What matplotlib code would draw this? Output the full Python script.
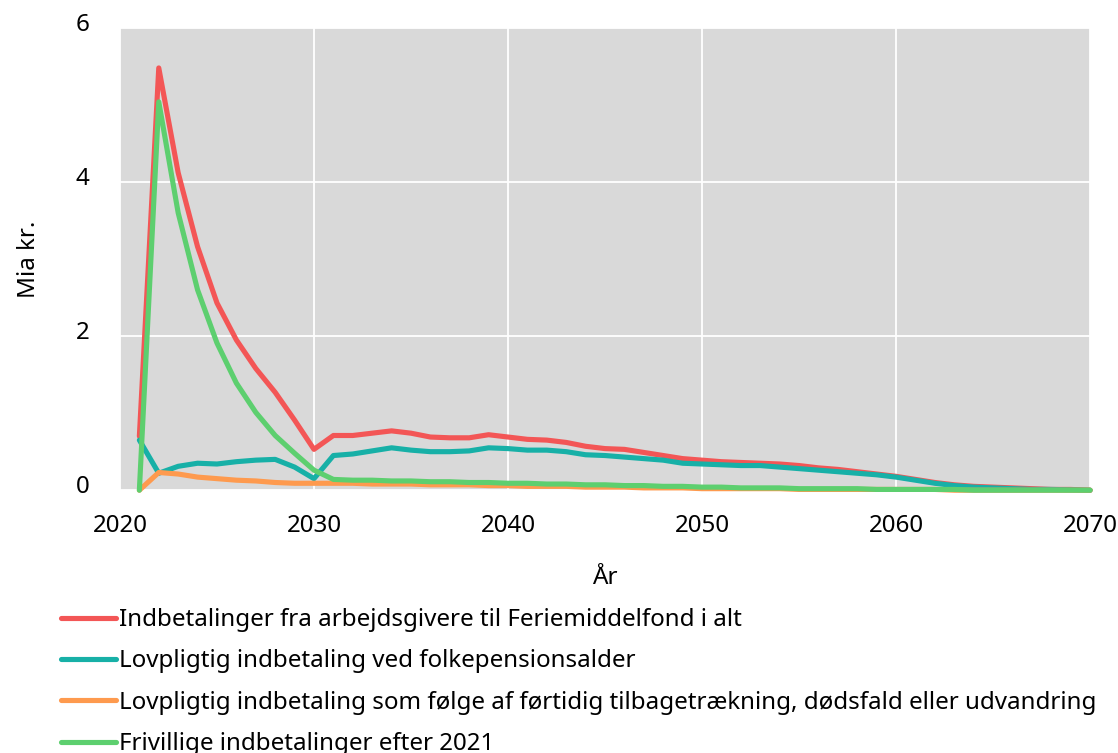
import numpy as np
import matplotlib.pyplot as plt
import matplotlib.transforms as mtransforms

plt.rcParams['font.family'] = ['Noto Sans', 'DejaVu Sans']

years = list(range(2021, 2071))

# Indbetalinger fra arbejdsgivere til Feriemiddelfond i alt
total = [0.70, 5.48, 4.12, 3.16, 2.43, 1.95, 1.58, 1.27, 0.91, 0.53,
         0.71, 0.71, 0.74, 0.77, 0.74, 0.69, 0.68, 0.68, 0.72, 0.69,
         0.66, 0.65, 0.62, 0.57, 0.54, 0.53, 0.49, 0.45, 0.41, 0.39,
         0.37, 0.36, 0.35, 0.34, 0.32, 0.29, 0.27, 0.24, 0.21, 0.18,
         0.14, 0.10, 0.07, 0.05, 0.04, 0.03, 0.02, 0.01, 0.01, 0.00]

# Lovpligtig indbetaling ved folkepensionsalder
pension = [0.65, 0.22, 0.31, 0.35, 0.34, 0.37, 0.39, 0.40, 0.30, 0.15,
           0.45, 0.47, 0.51, 0.55, 0.52, 0.50, 0.50, 0.51, 0.55, 0.54,
           0.52, 0.52, 0.50, 0.46, 0.45, 0.43, 0.41, 0.39, 0.35, 0.34,
           0.33, 0.32, 0.32, 0.30, 0.28, 0.26, 0.24, 0.22, 0.20, 0.17,
           0.13, 0.09, 0.06, 0.04, 0.03, 0.02, 0.01, 0.01, 0.005, 0.00]

# Lovpligtig indbetaling som følge af førtidig tilbagetrækning ...
early = [0.00, 0.23, 0.21, 0.17, 0.15, 0.13, 0.12, 0.10, 0.09, 0.09,
         0.09, 0.09, 0.08, 0.08, 0.08, 0.07, 0.07, 0.07, 0.06, 0.06,
         0.05, 0.05, 0.05, 0.04, 0.04, 0.04, 0.03, 0.03, 0.03, 0.02,
         0.02, 0.02, 0.02, 0.02, 0.01, 0.01, 0.01, 0.01, 0.01, 0.01,
         0.01, 0.01, 0.00, 0.00, 0.00, 0.00, 0.00, 0.00, 0.00, 0.00]

# Frivillige indbetalinger efter 2021
voluntary = [0.00, 5.04, 3.60, 2.60, 1.91, 1.39, 1.01, 0.71, 0.48, 0.26,
             0.14, 0.13, 0.13, 0.12, 0.12, 0.11, 0.11, 0.10, 0.10, 0.09,
             0.09, 0.08, 0.08, 0.07, 0.07, 0.06, 0.06, 0.05, 0.05, 0.04,
             0.04, 0.03, 0.03, 0.03, 0.02, 0.02, 0.02, 0.02, 0.01, 0.01,
             0.01, 0.01, 0.01, 0.00, 0.00, 0.00, 0.00, 0.00, 0.00, 0.00]

labels = ["Indbetalinger fra arbejdsgivere til Feriemiddelfond i alt",
          "Lovpligtig indbetaling ved folkepensionsalder",
          "Lovpligtig indbetaling som følge af førtidig tilbagetrækning, dødsfald eller udvandring",
          "Frivillige indbetalinger efter 2021"]
colors = ['#f35656', '#17b0a7', '#fe9a4e', '#5dcf6f']

fs = 17.4

fig = plt.figure(figsize=(11.18, 7.53), dpi=100)
ax = fig.add_axes([0.1073, 0.349, 0.8677, 0.614])
ax.set_facecolor('#d9d9d9')

for series, lab, col in zip([total, pension, early, voluntary], labels, colors):
    ax.plot(years, series, color=col, lw=3.7, label=lab,
            solid_capstyle='round', solid_joinstyle='round', clip_on=False)

ax.set_xlim(2020, 2070)
ax.set_ylim(0, 6)
ax.set_xticks(range(2020, 2071, 10))
ax.set_yticks([0, 2, 4, 6])
ax.grid(True, color='white', lw=1.3)
ax.set_axisbelow(True)
for s in ax.spines.values():
    s.set_visible(False)
ax.tick_params(length=0, labelsize=fs, pad=17)
ax.tick_params(axis='y', pad=22)
ax.set_xlabel("År", fontsize=fs, labelpad=20)
ax.set_ylabel("Mia kr.", fontsize=fs, labelpad=25)

# y tick labels sit a little above their gridlines in the original
shift = mtransforms.ScaledTranslation(0, 6 / 100, fig.dpi_scale_trans)
for t in ax.get_yticklabels():
    t.set_transform(t.get_transform() + shift)

leg = ax.legend(loc='upper left', bbox_to_anchor=(-0.0705, -0.234), frameon=False,
                fontsize=fs, handlelength=2.25, handletextpad=0.15,
                labelspacing=0.72, borderaxespad=0)

fig.savefig('out.png', dpi=100)
